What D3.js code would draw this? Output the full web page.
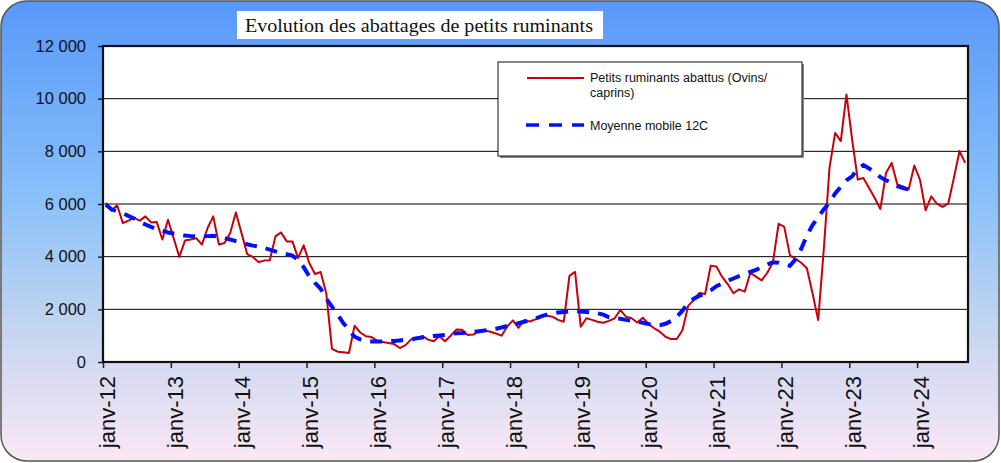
<!DOCTYPE html>
<html>
<head>
<meta charset="utf-8">
<script src="https://cdn.jsdelivr.net/npm/d3@7"></script>
<style>
 body { margin: 0; background: #fff; }
 text { font-family: "Liberation Sans", Arial, sans-serif; }
</style>
</head>
<body>
<svg width="1001" height="463"></svg>
<script>
// Monthly data, janv-12 .. sept-24
var abattus = [
 6040, 5750, 5950, 5280, 5370, 5470, 5370, 5530, 5300, 5320, 4650, 5400,
 4700, 3990, 4610, 4650, 4700, 4460, 5090, 5530, 4460, 4520, 4900, 5680,
 4900, 4100, 3990, 3800, 3850, 3860, 4770, 4920, 4580, 4580, 3950, 4430,
 3750, 3340, 3420, 2600, 500, 390, 370, 340, 1380, 1120, 980, 950,
 800, 760, 720, 680, 530, 640, 860, 880, 990, 850, 790, 980,
 790, 1000, 1230, 1220, 1030, 1040, 1180, 1200, 1150, 1080, 1000, 1350,
 1580, 1300, 1590, 1540, 1620, 1760, 1760, 1720, 1600, 1530, 3270, 3420,
 1340, 1660, 1600, 1530, 1490, 1560, 1660, 1975, 1720, 1660, 1500, 1680,
 1440, 1280, 1150, 960, 870, 870, 1215, 2130, 2360, 2620, 2580, 3660,
 3630, 3240, 2960, 2610, 2760, 2670, 3390, 3240, 3100, 3390, 3790, 5250,
 5130, 4050, 3920, 3770, 3560, 2610, 1590, 4300, 7370, 8700, 8390, 10160,
 8450, 6930, 6990, 6610, 6230, 5810, 7180, 7560, 6740, 6670, 6550, 7460,
 6930, 5760, 6290, 6010, 5890, 6010, 6990, 8010, 7560
];
var moyenne = [
 5975, 5800, 5720, 5650, 5550, 5450, 5330, 5220, 5130, 5050, 4980, 4920,
 4880, 4850, 4800, 4780, 4770, 4770, 4780, 4790, 4760, 4710, 4650, 4590,
 4530, 4470, 4420, 4390, 4330, 4270, 4200, 4140, 4090, 4040, 3880, 3600,
 3250, 3000, 2780, 2400, 2100, 1800, 1480, 1230, 960, 860, 800, 780,
 780, 780, 790, 800, 820, 840, 860, 900, 930, 960, 990, 1010,
 1030, 1070, 1090, 1100, 1120, 1140, 1170, 1200, 1220, 1260, 1310, 1370,
 1420, 1470, 1530, 1590, 1650, 1730, 1800, 1850, 1880, 1900, 1920, 1930,
 1920, 1900, 1880, 1850, 1800, 1700, 1660, 1640, 1600, 1570, 1530, 1490,
 1440, 1410, 1400, 1450, 1560, 1720, 1950, 2250, 2400, 2520, 2600, 2720,
 2880, 2980, 3080, 3170, 3260, 3340, 3420, 3500, 3600, 3700, 3790, 3770,
 3700, 3650, 3900, 4300, 4800, 5200, 5500, 5800, 6050, 6400, 6650, 6900,
 7050, 7350, 7480, 7350, 7200, 7020, 6900, 6800, 6680, 6600, 6550
];
var tickLabels = ["janv-12", "janv-13", "janv-14", "janv-15", "janv-16", "janv-17", "janv-18",
 "janv-19", "janv-20", "janv-21", "janv-22", "janv-23", "janv-24"];
var yTicks = [0, 2000, 4000, 6000, 8000, 10000, 12000];

var svg = d3.select("svg");

// background frame with gradient
var defs = svg.append("defs");
var grad = defs.append("linearGradient").attr("id", "bg")
 .attr("x1", 0).attr("y1", 0).attr("x2", 0).attr("y2", 1);
grad.append("stop").attr("offset", "0%").attr("stop-color", "#5898fa");
grad.append("stop").attr("offset", "42%").attr("stop-color", "#88c0f9");
grad.append("stop").attr("offset", "72%").attr("stop-color", "#c6d6f0");
grad.append("stop").attr("offset", "100%").attr("stop-color", "#fbe7f5");

svg.append("rect")
 .attr("x", 1).attr("y", 1).attr("width", 998).attr("height", 460)
 .attr("rx", 26).attr("ry", 26)
 .attr("fill", "url(#bg)")
 .attr("stroke", "#555").attr("stroke-width", 1.5);

// scales
var n = abattus.length;
var xEdge = d3.scaleLinear().domain([0, n]).range([103, 968]);
var x = function (i) { return xEdge(i + 0.5); };
var y = d3.scaleLinear().domain([0, 12000]).range([362, 46]);

// plot area
svg.append("rect")
 .attr("x", 103).attr("y", 46).attr("width", 968 - 103).attr("height", 362 - 46)
 .attr("fill", "#fff");

svg.append("g")
 .selectAll("line")
 .data(yTicks.slice(1, -1))
 .enter().append("line")
 .attr("x1", 103).attr("x2", 968)
 .attr("y1", function (d) { return y(d); })
 .attr("y2", function (d) { return y(d); })
 .attr("stroke", "#000").attr("stroke-width", 1);

// y axis
var yAxis = svg.append("g")
 .attr("transform", "translate(103,0)")
 .call(d3.axisLeft(y)
  .tickValues(yTicks)
  .tickSize(5)
  .tickPadding(12)
  .tickFormat(function (d) { return d3.format(",")(d).replace(",", " "); }));
yAxis.select(".domain").remove();
yAxis.selectAll("line").attr("stroke", "#222").attr("stroke-width", 1.5);
yAxis.selectAll("text").attr("font-size", "16.5px").attr("fill", "#111")
 .attr("font-family", "Liberation Sans, Arial, sans-serif");

// x axis ticks (category boundaries)
var xAxis = svg.append("g")
 .attr("transform", "translate(0,362)")
 .call(d3.axisBottom(xEdge)
  .tickValues(d3.range(0, n, 12))
  .tickSize(6)
  .tickFormat(""));
xAxis.select(".domain").remove();
xAxis.selectAll("line").attr("stroke", "#222").attr("stroke-width", 1.5);

// x labels, rotated
svg.append("g")
 .selectAll("text")
 .data(tickLabels)
 .enter().append("text")
 .attr("transform", function (d, k) { return "translate(" + (x(k * 12) + 1) + ",376) rotate(-90)"; })
 .attr("text-anchor", "end")
 .attr("dy", "0.36em")
 .attr("font-size", "22px")
 .attr("fill", "#111")
 .text(function (d) { return d; });

// plot border
svg.append("rect")
 .attr("x", 103).attr("y", 46).attr("width", 968 - 103).attr("height", 362 - 46)
 .attr("fill", "none").attr("stroke", "#111").attr("stroke-width", 2.2);

// lines
var line = d3.line()
 .x(function (d, i) { return x(i); })
 .y(function (d) { return y(d); });

svg.append("path")
 .datum(abattus)
 .attr("d", line)
 .attr("fill", "none")
 .attr("stroke", "#c8000a")
 .attr("stroke-width", 2)
 .attr("stroke-linejoin", "round");

svg.append("path")
 .datum(moyenne)
 .attr("d", line)
 .attr("fill", "none")
 .attr("stroke", "#0010ff")
 .attr("stroke-width", 4)
 .attr("stroke-dasharray", "12,9");

// title
svg.append("rect")
 .attr("x", 237).attr("y", 11).attr("width", 366).attr("height", 28)
 .attr("fill", "#fff");
svg.append("text")
 .attr("x", 245).attr("y", 32)
 .style("font-family", "'Liberation Serif', 'Times New Roman', serif")
 .attr("font-size", "19px")
 .attr("textLength", 348)
 .attr("lengthAdjust", "spacingAndGlyphs")
 .attr("fill", "#111")
 .text("Evolution  des abattages  de petits ruminants");

// legend
var lg = svg.append("g");
lg.append("rect")
 .attr("x", 500).attr("y", 64).attr("width", 304).attr("height", 94)
 .attr("fill", "#888");
lg.append("rect")
 .attr("x", 498).attr("y", 62).attr("width", 304).attr("height", 94)
 .attr("fill", "#fff").attr("stroke", "#111").attr("stroke-width", 1);
lg.append("line")
 .attr("x1", 527).attr("x2", 584).attr("y1", 78).attr("y2", 78)
 .attr("stroke", "#c8000a").attr("stroke-width", 2);
lg.append("text")
 .attr("x", 590).attr("y", 82)
 .attr("font-size", "12.5px").attr("fill", "#111")
 .text("Petits ruminants abattus (Ovins/");
lg.append("text")
 .attr("x", 590).attr("y", 97)
 .attr("font-size", "12.5px").attr("fill", "#111")
 .text("caprins)");
lg.append("line")
 .attr("x1", 526).attr("x2", 584).attr("y1", 125).attr("y2", 125)
 .attr("stroke", "#0010ff").attr("stroke-width", 3.5)
 .attr("stroke-dasharray", "13,10");
lg.append("text")
 .attr("x", 590).attr("y", 130)
 .attr("font-size", "12.5px").attr("fill", "#111")
 .text("Moyenne mobile 12C");
</script>
</body>
</html>
